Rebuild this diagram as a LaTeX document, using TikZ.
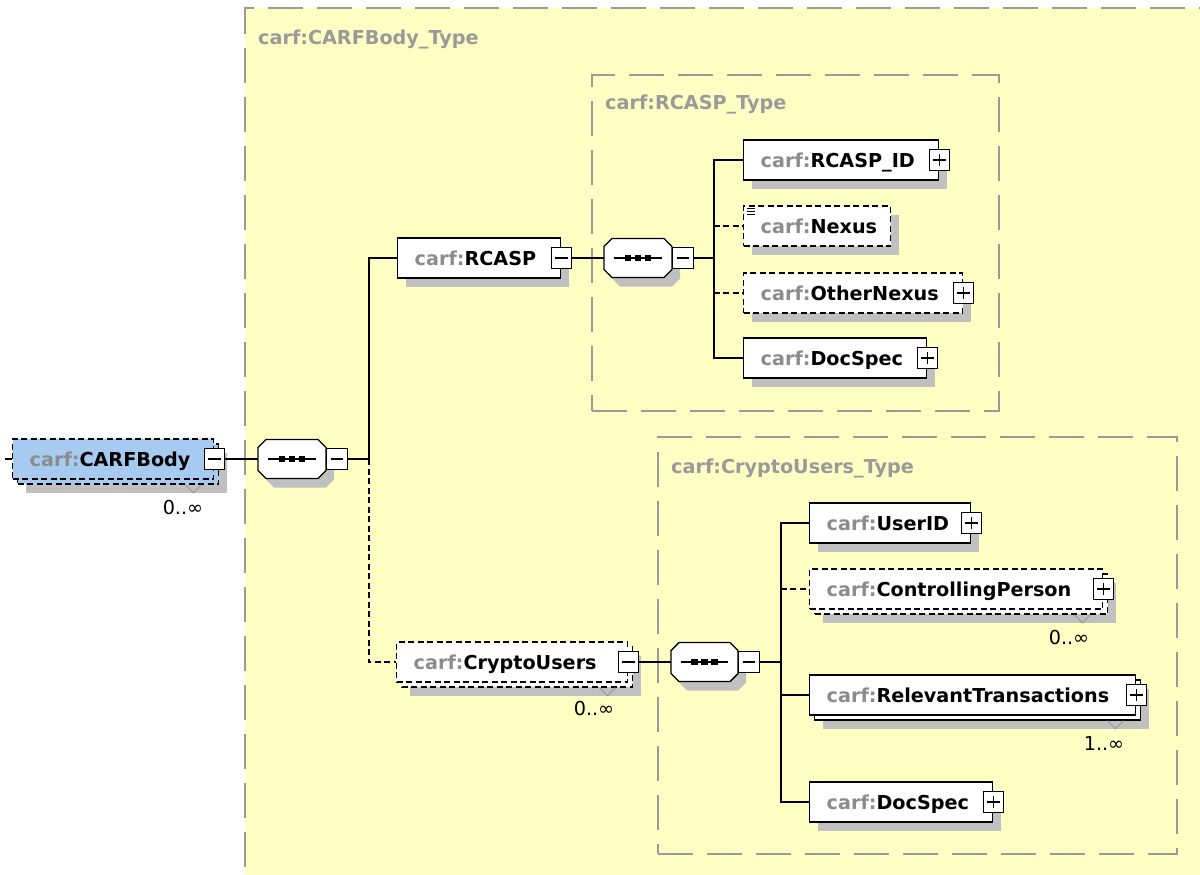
\documentclass[tikz,border=0pt]{standalone}
\usepackage{fontspec}
\setmainfont{DejaVu Sans}
\usetikzlibrary{shadows}
\usetikzlibrary{calc}
\usetikzlibrary{positioning}

\definecolor{typeyellow}{HTML}{FFFFC4}
\definecolor{typegrey}{HTML}{9A9A9A}
\definecolor{prefixgrey}{HTML}{8C8C8C}
\definecolor{shadowgrey}{HTML}{C0C0C0}
\definecolor{bodyblue}{HTML}{A6CAF0}

\newcommand{\carf}[1]{\mbox{\textcolor{prefixgrey}{carf:}#1}}

\tikzset{
    elem/.style={draw=black, fill=white, line width=1.4pt, inner xsep=17pt, inner ysep=0pt,
        minimum height=40pt, text height=14.2pt, text depth=0pt, align=left, anchor=west,
        font=\fontsize{19.2}{23}\selectfont\bfseries},
    opt/.style={dash pattern=on 6pt off 3.5pt},
    shade/.style={drop shadow={shadow xshift=8pt, shadow yshift=-9pt, fill=shadowgrey, opacity=1}},
    multi/.style={drop shadow={shadow xshift=13pt, shadow yshift=-14pt, fill=shadowgrey, opacity=1},
        copy shadow={shadow xshift=5pt, shadow yshift=-5pt, draw=black, line width=1.4pt, #1}},
    pm/.style={draw=black, fill=white, line width=1.3pt, minimum size=20.5pt, inner sep=0pt},
    collapse/.style={pm, path picture={
        \draw[line width=1.3pt] ([xshift=4pt]path picture bounding box.west) -- ([xshift=-4pt]path picture bounding box.east);}},
    expand/.style={pm, path picture={
        \draw[line width=1.3pt] ([xshift=4pt]path picture bounding box.west) -- ([xshift=-4pt]path picture bounding box.east);
        \draw[line width=1.3pt] ([yshift=4pt]path picture bounding box.south) -- ([yshift=-4pt]path picture bounding box.north);}},
    seqbox/.style={minimum width=68pt, minimum height=39pt, inner sep=0pt, outer sep=0pt, anchor=west},
    typebox/.style={draw=typegrey, fill=typeyellow, line width=2pt, dash pattern=on 35pt off 14pt,
        anchor=north west, inner sep=0pt},
    typelabel/.style={text=typegrey, inner sep=0pt, anchor=base west,
        font=\fontsize{19.2}{23}\selectfont\bfseries},
    mult/.style={inner sep=0pt, anchor=east, font=\fontsize{19.2}{23}\selectfont},
    notch/.style={draw=typegrey, line width=1pt},
    conn/.style={line width=1.4pt}
}

\begin{document}
\begin{tikzpicture}[x=1pt, y=-1pt]
    \fill[white] (0,0) rectangle (1200,875);
    \useasboundingbox (0,0) rectangle (1200,875);

    \node[typebox, minimum width=1000pt, minimum height=900pt] (bodytype) at (244,7) {};
    \node[typelabel] (bodytypelbl) at ([shift={(14,38)}]bodytype.north west) {carf:CARFBody\_Type};
    \node[typebox, minimum width=407pt, minimum height=336pt] (rcasptype) at (591,74) {};
    \node[typelabel] (rcasptypelbl) at ([shift={(14,36)}]rcasptype.north west) {carf:RCASP\_Type};
    \node[typebox, minimum width=519pt, minimum height=417pt] (cryptotype) at (657,436) {};
    \node[typelabel] (cryptotypelbl) at ([shift={(14,37)}]cryptotype.north west) {carf:CryptoUsers\_Type};

    \node[seqbox] (seq1) at (258,459) {};
    \node[seqbox] (seq2) at (604,258) {};
    \node[seqbox, minimum width=67pt] (seq3) at (671,662) {};
    \foreach \s in {seq1,seq2,seq3} {
        \fill[shadowgrey, transform canvas={shift={(8pt,-9pt)}}]
            ([xshift=8pt]\s.north west) -- ([xshift=-8pt]\s.north east) -- ([yshift=-8pt]\s.north east)
            -- ([yshift=8pt]\s.south east) -- ([xshift=-8pt]\s.south east) -- ([xshift=8pt]\s.south west)
            -- ([yshift=8pt]\s.south west) -- ([yshift=-8pt]\s.north west) -- cycle;
        \draw[conn, fill=white]
            ([xshift=8pt]\s.north west) -- ([xshift=-8pt]\s.north east) -- ([yshift=-8pt]\s.north east)
            -- ([yshift=8pt]\s.south east) -- ([xshift=-8pt]\s.south east) -- ([xshift=8pt]\s.south west)
            -- ([yshift=8pt]\s.south west) -- ([yshift=-8pt]\s.north west) -- cycle;
        \draw[conn] ([xshift=10pt]\s.west) -- ([xshift=-10pt]\s.east);
        \foreach \d in {-10,0,10}
            \fill[black] ([xshift=\d pt]\s.center) +(-3.2,-3.2) rectangle +(3.2,3.2);
    }
    \node[collapse, anchor=west] (seq1x) at (seq1.east) {};
    \node[collapse, anchor=west] (seq2x) at (seq2.east) {};
    \node[collapse, anchor=west] (seq3x) at (seq3.east) {};

    \node[elem, opt, fill=bodyblue, multi={fill=bodyblue, opt}, text width=167pt] (body) at (12,459) {\carf{CARFBody}};
    \node[collapse] (bodyx) at (body.east) {};
    \node[mult] (bodym) at ([shift={(-11,28)}]body.south east) {0..∞};
    \draw[notch] ([shift={(-29,5)}]body.south east) -- ++(8,8) -- ++(8,-8);
    \coordinate (in0) at (5,459);

    \node[elem, shade, text width=129pt] (rcasp) at (397,258) {\carf{RCASP}};
    \node[collapse] (rcaspx) at (rcasp.east) {};

    \node[elem, opt, multi={fill=white, opt}, text width=197pt] (crypto) at (396,662) {\carf{CryptoUsers}};
    \node[collapse] (cryptox) at (crypto.east) {};
    \node[mult] (cryptom) at ([shift={(-14,26)}]crypto.south east) {0..∞};
    \draw[notch] ([shift={(-29,5)}]crypto.south east) -- ++(8,8) -- ++(8,-8);

    \node[elem, shade, text width=161pt] (rcaspid) at (743,160) {\carf{RCASP\_ID}};
    \node[expand] (rcaspidx) at (rcaspid.east) {};
    \node[elem, opt, shade, text width=113pt] (nexus) at (743,226) {\carf{Nexus}};
    \draw[line width=0.9pt] ([shift={(4,3)}]nexus.north west) -- ++(8,0)
        ([shift={(4,6)}]nexus.north west) -- ++(8,0)
        ([shift={(4,9)}]nexus.north west) -- ++(8,0);
    \node[elem, opt, shade, text width=185pt] (othernexus) at (743,293) {\carf{OtherNexus}};
    \node[expand] (othernexusx) at (othernexus.east) {};
    \node[elem, shade, text width=149pt] (docspec1) at (743,358) {\carf{DocSpec}};
    \node[expand] (docspec1x) at (docspec1.east) {};

    \node[elem, shade, text width=127pt] (userid) at (809,523) {\carf{UserID}};
    \node[expand] (useridx) at (userid.east) {};
    \node[elem, opt, multi={fill=white, opt}, text width=259pt] (ctrlperson) at (809,589) {\carf{ControllingPerson}};
    \node[expand] (ctrlpersonx) at (ctrlperson.east) {};
    \node[mult] (ctrlpersonm) at ([shift={(-14,28)}]ctrlperson.south east) {0..∞};
    \draw[notch] ([shift={(-29,5)}]ctrlperson.south east) -- ++(8,8) -- ++(8,-8);
    \node[elem, multi={fill=white}, text width=292pt] (reltrans) at (809,695) {\carf{RelevantTransactions}};
    \node[expand] (reltransx) at (reltrans.east) {};
    \node[mult] (reltransm) at ([shift={(-12,28)}]reltrans.south east) {1..∞};
    \draw[notch] ([shift={(-29,5)}]reltrans.south east) -- ++(8,8) -- ++(8,-8);
    \node[elem, shade, text width=149pt] (docspec2) at (809,802) {\carf{DocSpec}};
    \node[expand] (docspec2x) at (docspec2.east) {};

    \draw[conn] (in0) -- (body.west);
    \draw[conn] (bodyx.east) -- (seq1.west);
    \draw[conn] (seq1x.east) -- ++(21,0) coordinate (t1) |- (rcasp.west);
    \draw[conn, opt] (t1) |- (crypto.west);
    \draw[conn] (rcaspx.east) -- (seq2.west);
    \draw[conn] (seq2x.east) -- ++(20,0) coordinate (t2) |- (rcaspid.west);
    \draw[conn] (t2) |- (docspec1.west);
    \draw[conn, opt] (t2 |- nexus.west) -- (nexus.west);
    \draw[conn, opt] (t2 |- othernexus.west) -- (othernexus.west);
    \draw[conn] (cryptox.east) -- (seq3.west);
    \draw[conn] (seq3x.east) -- ++(21,0) coordinate (t3) |- (userid.west);
    \draw[conn] (t3) |- (docspec2.west);
    \draw[conn] (t3 |- reltrans.west) -- (reltrans.west);
    \draw[conn, opt] (t3 |- ctrlperson.west) -- (ctrlperson.west);
\end{tikzpicture}
\end{document}
